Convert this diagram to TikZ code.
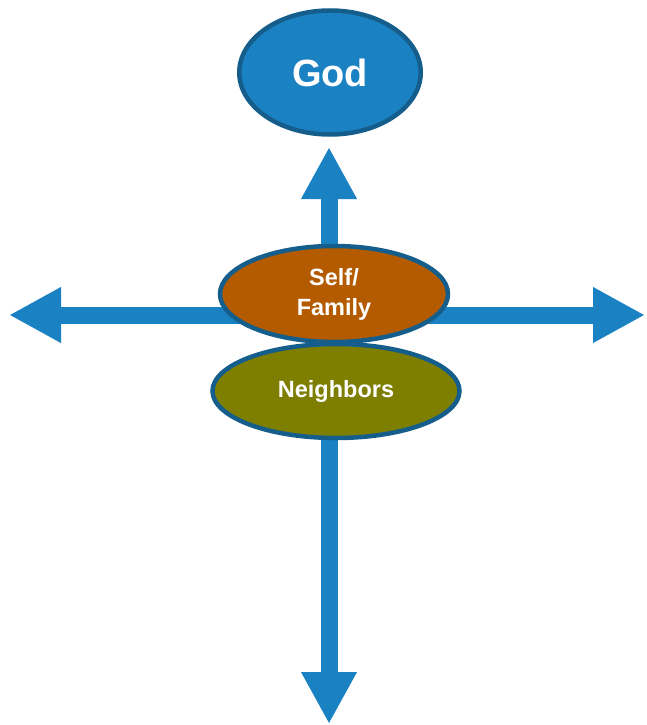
\documentclass[tikz,border=0pt]{standalone}
\usepackage{fontspec}
\setmainfont{Liberation Sans}
\usetikzlibrary{shapes.geometric,arrows.meta}
\definecolor{axisblue}{HTML}{1A81C3}
\definecolor{rimblue}{HTML}{155E8C}
\definecolor{selforange}{HTML}{B45B00}
\definecolor{neigholive}{HTML}{7E7E00}
\tikzset{
  bigarrow/.style={draw=axisblue, line width=17pt, line cap=butt,
    -{Triangle[width=52pt,length=52pt]}},
  oval/.style={ellipse, draw=rimblue, line width=4.5pt, inner sep=0pt,
    text=white, font=\bfseries, align=center},
}
\begin{document}
\begin{tikzpicture}[x=1pt,y=1pt]
\useasboundingbox (0,0) rectangle (646,-725);
\coordinate (hub) at (329,-315);
\coordinate (uptip) at (329,-147);
\coordinate (downtip) at (329,-724);
\coordinate (lefttip) at (9,-315);
\coordinate (righttip) at (645,-315);
\draw[bigarrow] (hub) -- (uptip);
\draw[bigarrow] (hub) -- (downtip);
\draw[bigarrow] (hub) -- (lefttip);
\draw[bigarrow] (hub) -- (righttip);
\node[oval, fill=axisblue, minimum width=181.5pt, minimum height=124pt,
  font=\bfseries\fontsize{38}{44}\selectfont] (god) at (330,-72.5) {God};
\node[oval, fill=selforange, minimum width=228pt, minimum height=96pt,
  font=\bfseries\fontsize{23.5}{30}\selectfont] (self) at (334,-294) {Self/\\Family};
\node[oval, fill=neigholive, minimum width=247pt, minimum height=94pt,
  font=\bfseries\fontsize{23.5}{30}\selectfont] (neigh) at (336,-391) {Neighbors};
\end{tikzpicture}
\end{document}
